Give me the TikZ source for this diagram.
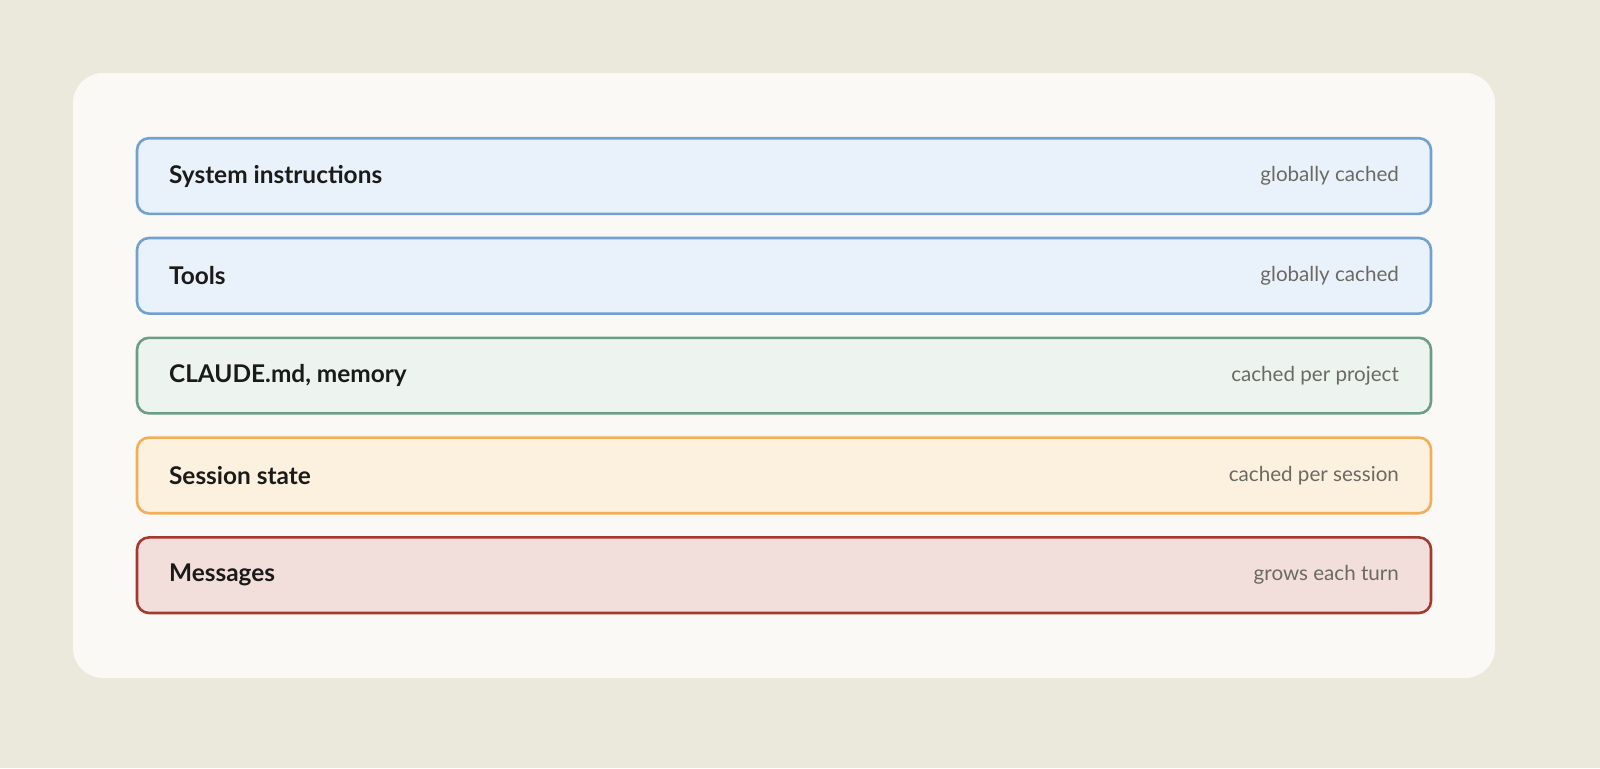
\documentclass[tikz,border=0pt]{standalone}
\usepackage{fontspec}
\setmainfont{Lato}
\usepackage{xcolor}
\usepackage{tikz}
\usetikzlibrary{positioning}

\definecolor{pagebg}{HTML}{EBE8DC}
\definecolor{cardbg}{HTML}{FAF9F5}
\definecolor{blueline}{HTML}{72A0CF}
\definecolor{bluefill}{HTML}{E9F1FB}
\definecolor{greenline}{HTML}{6B9E86}
\definecolor{greenfill}{HTML}{EDF3EF}
\definecolor{orangeline}{HTML}{F2AE58}
\definecolor{orangefill}{HTML}{FCF0DE}
\definecolor{redline}{HTML}{A3392F}
\definecolor{redfill}{HTML}{F2DEDB}
\definecolor{labelgray}{HTML}{6B6A62}
\definecolor{titleink}{HTML}{1A1A18}

\begin{document}
\begin{tikzpicture}
            % Layer style
            \tikzstyle{layer} = [rectangle, rounded corners=6pt, line width=1.3pt, minimum width=647pt, minimum height=37.8pt, inner sep=0pt]
            \tikzstyle{title} = [anchor=west, inner sep=0pt, font=\fontsize{12.2}{14}\selectfont\bfseries, text=titleink]
            \tikzstyle{note} = [anchor=east, inner sep=0pt, font=\fontsize{10.3}{12}\selectfont, text=labelgray]

            % Page and card
            \fill[pagebg] (0,0) rectangle (800pt,384pt);
            \useasboundingbox (0,0) rectangle (800pt,384pt);
            \fill[cardbg, rounded corners=15pt] (36.5pt,45pt) rectangle (747.5pt,347.5pt);

            % Layers
            \node[layer, draw=blueline, fill=bluefill] (sys) at (392pt,296pt) {};
            \node[layer, draw=blueline, fill=bluefill, below=10.8pt of sys] (tools) {};
            \node[layer, draw=greenline, fill=greenfill, below=10.8pt of tools] (claude) {};
            \node[layer, draw=orangeline, fill=orangefill, below=10.8pt of claude] (session) {};
            \node[layer, draw=redline, fill=redfill, below=10.8pt of session] (msgs) {};

            % Titles
            \node[title] (sys_t) at ([xshift=16.5pt]sys.west) {System instructions};
            \node[title] (tools_t) at ([xshift=16.5pt]tools.west) {Tools};
            \node[title] (claude_t) at ([xshift=16.5pt]claude.west) {CLAUDE.md, memory};
            \node[title] (session_t) at ([xshift=16.5pt]session.west) {Session state};
            \node[title] (msgs_t) at ([xshift=16.5pt]msgs.west) {Messages};

            % Cache notes
            \node[note] (sys_n) at ([xshift=-16.5pt]sys.east) {globally cached};
            \node[note] (tools_n) at ([xshift=-16.5pt]tools.east) {globally cached};
            \node[note] (claude_n) at ([xshift=-16.5pt]claude.east) {cached per project};
            \node[note] (session_n) at ([xshift=-16.5pt]session.east) {cached per session};
            \node[note] (msgs_n) at ([xshift=-16.5pt]msgs.east) {grows each turn};
        \end{tikzpicture}
\end{document}
